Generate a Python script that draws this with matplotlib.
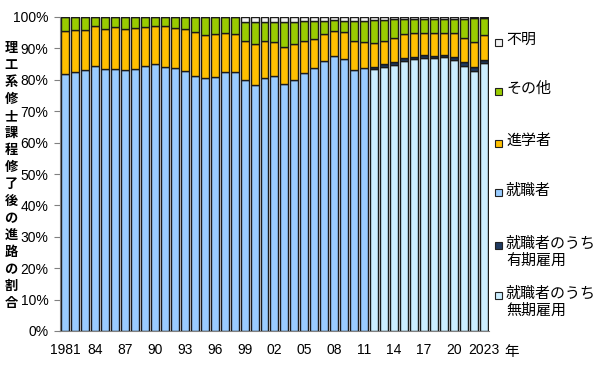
import numpy as np
import matplotlib.pyplot as plt
from matplotlib.patches import Rectangle

plt.rcParams['font.family'] = ['Liberation Sans', 'Noto Sans CJK JP', 'DejaVu Sans']

years = list(range(1981, 2024))

# 就職者 (1981-2011)
shushoku = [81.9, 82.6, 83.1, 84.5, 83.5, 83.4, 83.1, 83.5, 84.5, 85.0,
            84.0, 83.6, 82.7, 81.3, 80.5, 81.0, 82.4, 82.4, 80.0, 78.2,
            80.5, 81.3, 78.7, 80.0, 82.3, 83.8, 86.0, 87.6, 86.7, 83.1,
            83.7] + [0] * 12
# 就職者のうち無期雇用 / 有期雇用 (2012-)
muki = [0] * 31 + [83.4, 84.0, 84.7, 86.0, 86.5, 87.1, 86.9, 87.2, 86.3, 84.5, 82.9, 85.2]
yuki = [0] * 31 + [0.8, 1.0, 0.9, 0.9, 0.9, 0.8, 0.8, 0.7, 1.1, 1.1, 1.1, 1.0]
# 進学者
shingaku = [13.6, 13.2, 12.7, 12.5, 12.7, 13.4, 13.0, 13.0, 12.3, 12.0,
            13.0, 13.0, 13.5, 14.0, 13.8, 13.6, 12.4, 12.2, 12.4, 13.2,
            11.8, 10.6, 11.8, 11.3, 10.2, 9.3, 8.6, 8.0, 8.5, 9.4,
            8.4, 7.4, 7.5, 7.7, 7.8, 7.6, 7.1, 7.3, 7.1, 7.4, 7.7, 7.9, 8.0]
# その他
sonota = [4.5, 4.2, 4.2, 3.0, 3.8, 3.2, 3.9, 3.5, 3.2, 3.0,
          3.0, 3.4, 3.8, 4.7, 5.7, 5.4, 5.2, 5.4, 6.0, 7.1,
          6.2, 6.6, 8.0, 7.0, 6.1, 5.5, 4.1, 3.4, 3.6, 6.3,
          6.7, 7.4, 6.6, 6.1, 4.8, 4.5, 4.5, 4.5, 4.5, 4.7, 6.2, 7.7, 5.4]
# 不明
fumei = [0] * 18 + [1.6, 1.5, 1.5, 1.5, 1.5, 1.7, 1.4, 1.4, 1.3, 1.0, 1.2, 1.2,
                    1.2, 1.0, 0.9, 0.6, 0.5, 0.5, 0.5, 0.5, 0.5, 0.5, 0.5, 0.5, 0.4]

tick_labels = {1981: '1981', 1984: '84', 1987: '87', 1990: '90', 1993: '93',
               1996: '96', 1999: '99', 2002: '02', 2005: '05', 2008: '08',
               2011: '11', 2014: '14', 2017: '17', 2020: '20', 2023: '2023'}

series = [
    ('就職者のうち\n無期雇用', muki, '#CCEEFF'),
    ('就職者のうち\n有期雇用', yuki, '#1F3A60'),
    ('就職者', shushoku, '#99CCFF'),
    ('進学者', shingaku, '#FFC000'),
    ('その他', sonota, '#99CC00'),
    ('不明', fumei, '#F2F2F2'),
]

fig = plt.figure(figsize=(6, 3.69), dpi=100)
ax = fig.add_axes([59.5 / 600, 38 / 369, (488.6 - 59.5) / 600, (331 - 17) / 369])

x = np.arange(len(years))
bottom = np.zeros(len(years))
for name, vals, col in series:
    v = np.array(vals, dtype=float)
    ax.bar(x, v, 0.8, bottom=bottom, color=col, edgecolor='#1a1a1a', linewidth=1.0)
    bottom += v

ax.set_xlim(-0.58, len(years) - 0.5)
ax.set_ylim(0, 100)
ax.set_yticks(np.arange(0, 101, 10))
ax.set_yticklabels([f'{v}%' for v in range(0, 101, 10)], fontsize=10)
ax.set_xticks([i for i, y in enumerate(years) if y in tick_labels])
ax.set_xticklabels([tick_labels[y] for y in years if y in tick_labels], fontsize=10)
ax.tick_params(axis='x', length=0, pad=9)
ax.tick_params(axis='y', length=4, color='#808080', pad=4)
for s in ['top', 'right']:
    ax.spines[s].set_visible(False)
ax.spines['left'].set_color('#808080')
ax.spines['bottom'].set_color('#808080')

fig.text(504 / 600, 1 - 352 / 369, '年', fontsize=10.5, family=['Noto Sans CJK JP'],
         va='center', ha='left')

# 縦書きの軸ラベル
ylabel = '理工系修士課程修了後の進路の割合'
for i, ch in enumerate(ylabel):
    fig.text(11 / 600, 1 - (48 + i * 17) / 369, ch, fontsize=9.5, weight='bold',
             family=['Noto Sans CJK JP'], ha='center', va='center')

# 凡例
legend_rows = [('不明', '#F2F2F2', 42), ('その他', '#99CC00', 91),
               ('進学者', '#FFC000', 143), ('就職者', '#99CCFF', 193),
               ('就職者のうち\n有期雇用', '#1F3A60', 245),
               ('就職者のうち\n無期雇用', '#CCEEFF', 295)]
for label, col, ypx in legend_rows:
    fig.add_artist(Rectangle((495 / 600, 1 - (ypx + 3.5) / 369), 7 / 600, 7 / 369,
                             transform=fig.transFigure, facecolor=col,
                             edgecolor='#202020', linewidth=0.8))
    fig.text(506 / 600, 1 - (ypx - 9) / 369, label, fontsize=10.8,
             family=['Noto Sans CJK JP'], ha='left', va='top', linespacing=1.25)

fig.savefig('out.png', dpi=100)
